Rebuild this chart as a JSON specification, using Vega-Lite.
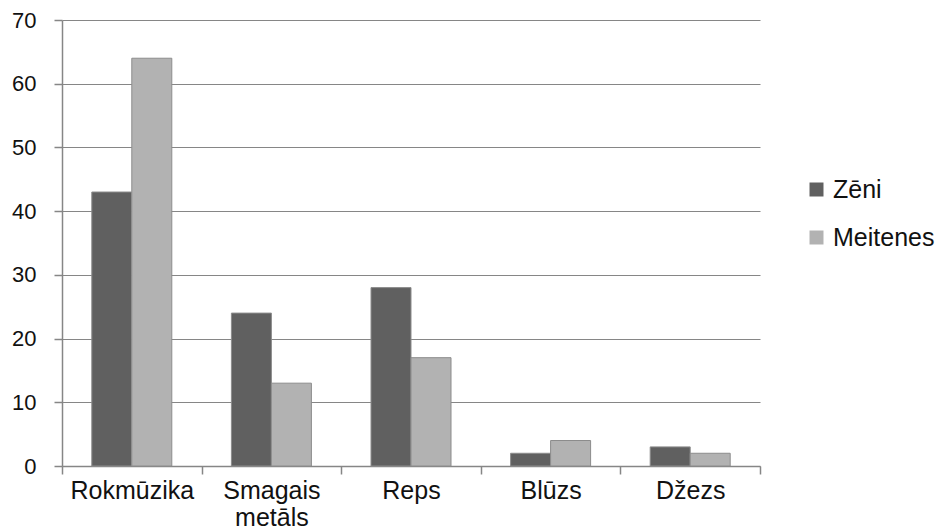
{
  "$schema": "https://vega.github.io/schema/vega-lite/v6.json",
  "autosize": {"type": "none"},
  "padding": {"left": 62, "top": 20, "right": 185, "bottom": 65},
  "width": 698,
  "height": 446,
  "background": "white",
  "data": {
    "values": [
      {"genre": "Rokmūzika", "group": "Zēni", "value": 43},
      {"genre": "Rokmūzika", "group": "Meitenes", "value": 64},
      {"genre": "Smagais metāls", "group": "Zēni", "value": 24},
      {"genre": "Smagais metāls", "group": "Meitenes", "value": 13},
      {"genre": "Reps", "group": "Zēni", "value": 28},
      {"genre": "Reps", "group": "Meitenes", "value": 17},
      {"genre": "Blūzs", "group": "Zēni", "value": 2},
      {"genre": "Blūzs", "group": "Meitenes", "value": 4},
      {"genre": "Džezs", "group": "Zēni", "value": 3},
      {"genre": "Džezs", "group": "Meitenes", "value": 2}
    ]
  },
  "mark": {"type": "bar", "stroke": "#8c8c8c", "strokeWidth": 1},
  "encoding": {
    "x": {
      "field": "genre",
      "type": "nominal",
      "sort": ["Rokmūzika", "Smagais metāls", "Reps", "Blūzs", "Džezs"],
      "scale": {"paddingInner": 0, "paddingOuter": 0},
      "axis": {
        "title": null,
        "labelAngle": 0,
        "tickBand": "extent",
        "ticks": true,
        "tickSize": 8,
        "tickColor": "#868686",
        "tickWidth": 1.5,
        "domainColor": "#868686",
        "domainWidth": 1.5,
        "grid": false,
        "labelFont": "Liberation Sans",
        "labelFontSize": 25,
        "labelColor": "#111111",
        "labelBaseline": "middle",
        "labelPadding": 16,
        "labelLineHeight": 27,
        "labelExpr": "datum.value == 'Smagais metāls' ? ['Smagais', 'metāls'] : datum.value"
      }
    },
    "xOffset": {
      "field": "group",
      "type": "nominal",
      "sort": ["Zēni", "Meitenes"],
      "scale": {"paddingInner": 0, "paddingOuter": 0.745}
    },
    "y": {
      "field": "value",
      "type": "quantitative",
      "scale": {"domain": [0, 70], "nice": false},
      "axis": {
        "title": null,
        "values": [0, 10, 20, 30, 40, 50, 60, 70],
        "tickSize": 8,
        "tickColor": "#868686",
        "tickWidth": 1.5,
        "domainColor": "#868686",
        "domainWidth": 1.5,
        "grid": true,
        "gridColor": "#868686",
        "gridWidth": 1.2,
        "labelFont": "Liberation Sans",
        "labelFontSize": 22,
        "labelColor": "#111111",
        "labelPadding": 18
      }
    },
    "color": {
      "field": "group",
      "type": "nominal",
      "sort": ["Zēni", "Meitenes"],
      "scale": {"domain": ["Zēni", "Meitenes"], "range": ["#606060", "#b2b2b2"]},
      "legend": {
        "title": null,
        "orient": "none",
        "legendX": 742,
        "legendY": 157,
        "padding": 0,
        "symbolType": "square",
        "symbolSize": 196,
        "symbolStrokeWidth": 0,
        "labelFont": "Liberation Sans",
        "labelFontSize": 25,
        "labelColor": "#111111",
        "labelOffset": 4,
        "rowPadding": 22
      }
    }
  },
  "config": {"view": {"stroke": null}}
}
